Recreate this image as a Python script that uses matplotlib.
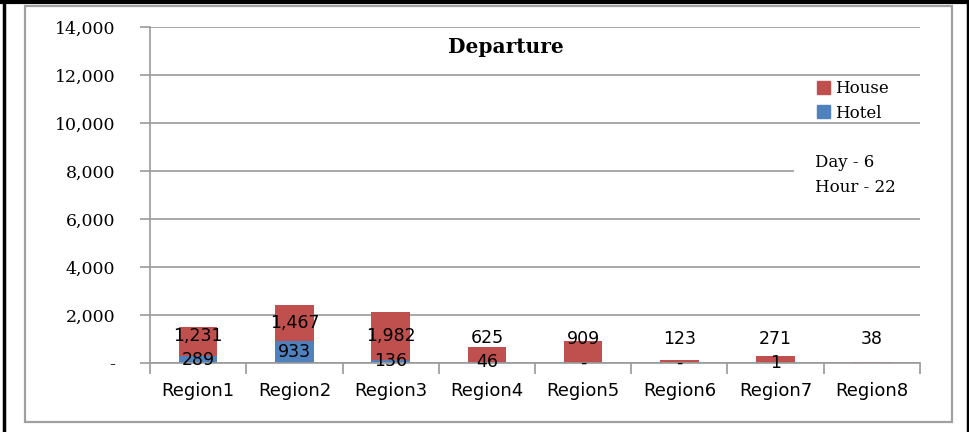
import numpy as np
import matplotlib
matplotlib.use("Agg")
import matplotlib.pyplot as plt
from matplotlib.patches import Patch, Rectangle
from matplotlib.lines import Line2D

# data
regions = ["Region1", "Region2", "Region3", "Region4",
           "Region5", "Region6", "Region7", "Region8"]
hotel = [289, 933, 136, 46, 0, 0, 1, np.nan]
house = [1231, 1467, 1982, 625, 909, 123, 271, 38]
y_ticks = [0, 2000, 4000, 6000, 8000, 10000, 12000, 14000]
title = "Departure"
note = "Day - 6\nHour - 22"

red = "#C0504D"
blue = "#4F81BD"
gray = "#9A9A9A"


def fmt(v):
    return "-" if v == 0 else f"{v:,.0f}"


W, H = 970, 432
fig = plt.figure(figsize=(W / 100, H / 100), dpi=100)
ax = fig.add_axes([150 / W, 1 - 363 / H, 770 / W, 336 / H])

x = np.arange(len(regions))
hotel_arr = np.array(hotel, dtype=float)
base = np.nan_to_num(hotel_arr)
house_arr = np.array(house, dtype=float)

ax.bar(x, base, width=0.4, color=blue, zorder=2)
ax.bar(x, house_arr, bottom=base, width=0.4, color=red, zorder=2)

# data labels
for i in range(len(regions)):
    if not np.isnan(hotel_arr[i]):
        ax.text(x[i], base[i] / 2, fmt(hotel_arr[i]), ha="center", va="center",
                fontsize=12.5, family="DejaVu Sans", zorder=4)
    y_house = max(base[i] + house_arr[i] / 2, base[i] / 2 + 1000)
    ax.text(x[i], y_house, fmt(house_arr[i]), ha="center", va="center",
            fontsize=12.5, family="DejaVu Sans", zorder=4)

ax.set_xlim(-0.5, len(regions) - 0.5)
ax.set_ylim(0, 14000)
ax.set_yticks(y_ticks)
ax.set_yticklabels([fmt(v) for v in y_ticks], family="DejaVu Serif", fontsize=12.5)
ax.tick_params(axis="y", length=7, color=gray, width=1.2, pad=18)
ax.set_xticks(x)
ax.set_xticklabels(regions, family="DejaVu Sans", fontsize=13)
ax.set_xticks(np.arange(len(regions) + 1) - 0.5, minor=True)
ax.tick_params(axis="x", which="major", length=0, pad=14)
ax.tick_params(axis="x", which="minor", length=8, color=gray, width=1.2)

ax.grid(axis="y", color=gray, linewidth=1.2)
ax.set_axisbelow(True)
for s in ["top", "right"]:
    ax.spines[s].set_visible(False)
for s in ["left", "bottom"]:
    ax.spines[s].set_color(gray)
    ax.spines[s].set_linewidth(1.2)

fig.text(506 / W, 1 - 47 / H, title, ha="center", va="center",
         family="DejaVu Serif", fontweight="bold", fontsize=14.5)

handles = [Patch(color=red, label="House"), Patch(color=blue, label="Hotel")]
fig.legend(handles=handles, loc="upper left", bbox_to_anchor=(817 / W, 1 - 80 / H),
           frameon=False, prop={"family": "DejaVu Serif", "size": 12},
           handlelength=0.8, handleheight=0.8, handletextpad=0.3,
           labelspacing=0.45, borderpad=0, borderaxespad=0)

# white text box over the 8,000 gridline (trailing spaces widen it to the plot edge)
fig.text(815 / W, 1 - 175 / H, note.replace("\n", "  \n") + "  ", ha="left", va="center",
         family="DejaVu Serif", fontsize=12, linespacing=1.6,
         bbox=dict(facecolor="white", edgecolor="none", pad=15), zorder=5)

# chart frame and outer border
fig.add_artist(Rectangle((25 / W, 1 - 422 / H), 927 / W, 416 / H, transform=fig.transFigure,
                         fill=False, edgecolor="#A0A0A0", linewidth=1.6))
fig.add_artist(Line2D([4.5 / W, 4.5 / W], [0, 1], color="black", linewidth=2.5))
fig.add_artist(Line2D([0, 1], [1 - 2 / H, 1 - 2 / H], color="black", linewidth=3))
fig.add_artist(Line2D([968.5 / W, 968.5 / W], [0, 1], color="black", linewidth=2.5))

fig.savefig("out.png", dpi=100)
